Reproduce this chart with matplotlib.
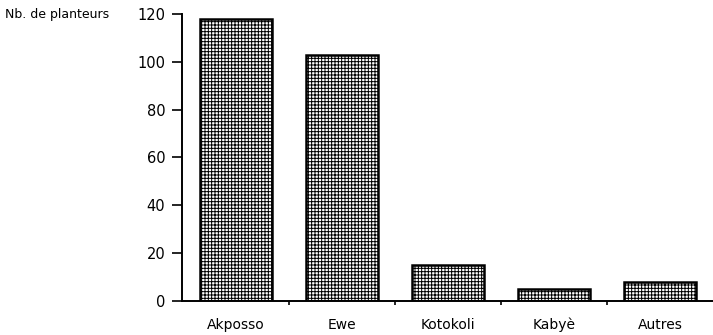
import matplotlib
matplotlib.use("Agg")
from matplotlib import pyplot as plt

groups = ["Akposso", "Ewe", "Kotokoli", "Kabyè", "Autres"]
planteurs = [118, 103, 15, 5, 8]
yticks = [0, 20, 40, 60, 80, 100, 120]

plt.rcParams['hatch.linewidth'] = 0.7

fig = plt.figure(figsize=(7.13, 3.35), dpi=100)
ax = fig.add_axes([0.2553, 0.1015, 0.7447, 0.857])

x = list(range(len(groups)))
ax.bar(x, planteurs, width=0.68, color="white", edgecolor="black",
       linewidth=1.8, hatch="+++++")

ax.set_xlim(-0.51, 4.5)
ax.set_ylim(0, 120)
ax.set_yticks(yticks)
ax.set_xticks([0.5, 1.5, 2.5, 3.5])
ax.set_xticklabels([])
ax.tick_params(axis="x", length=3, width=1.2, direction="out")
ax.tick_params(axis="y", length=7, width=1.2, pad=5, labelsize=10.5)

for xi, name in zip(x, groups):
    ax.text(xi, -0.058, name, transform=ax.get_xaxis_transform(),
            ha="center", va="top", fontsize=10)

for side in ["top", "right"]:
    ax.spines[side].set_visible(False)
for side in ["left", "bottom"]:
    ax.spines[side].set_linewidth(1.4)

fig.text(0.007, 0.958, "Nb. de planteurs", ha="left", va="center", fontsize=9)

fig.savefig("out.png", dpi=100)
